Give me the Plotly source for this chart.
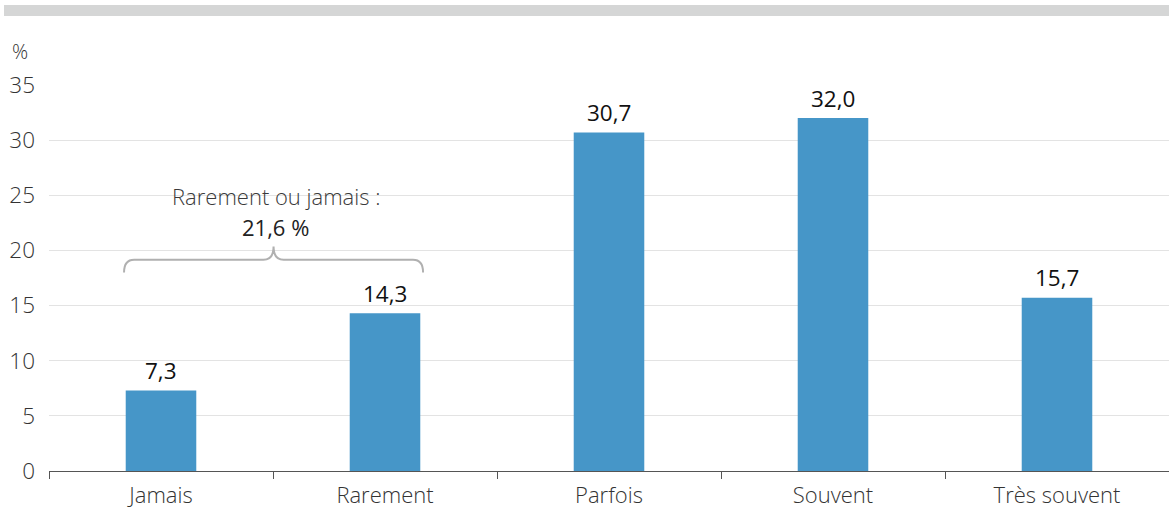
import plotly.graph_objects as go

# Frequency categories and shares (%)
categories = ["Jamais", "Rarement", "Parfois", "Souvent", "Très souvent"]
values = [7.3, 14.3, 30.7, 32.0, 15.7]
y_ticks = [0, 5, 10, 15, 20, 25, 30, 35]
group_label = "Rarement ou jamais :"
group_value = "21,6 %"

BAR_COLOR = "#4696c8"
FONT = "Open Sans"

W, H = 1169, 508
M_L, M_R, M_T, M_B = 49, 0, 85, 37
plot_w = W - M_L - M_R
plot_h = H - M_T - M_B


def fr(v):
    return f"{v:.1f}".replace(".", ",")


x_pos = list(range(len(categories)))

fig = go.Figure()
fig.add_trace(go.Bar(
    x=x_pos, y=values, width=0.315,
    marker=dict(color=BAR_COLOR, line=dict(width=0)),
    hoverinfo="skip",
))

# value labels above bars
for xi, v in zip(x_pos, values):
    fig.add_annotation(x=xi, y=v, text=fr(v), showarrow=False,
                       xref="x", yref="y", yanchor="middle", yshift=20,
                       font=dict(family=FONT, size=22.5, color="#111111"))

# curly brace grouping the first two categories
xl, xr = -0.165, 1.17
xm = (xl + xr) / 2
yb, yl, yt = 18.0, 19.15, 20.35
rx = 0.045
path = (f"M {xl},{yb} Q {xl},{yl} {xl + rx},{yl} "
        f"L {xm - rx},{yl} Q {xm},{yl} {xm},{yt} "
        f"Q {xm},{yl} {xm + rx},{yl} "
        f"L {xr - rx},{yl} Q {xr},{yl} {xr},{yb}")
fig.add_shape(type="path", path=path, xref="x", yref="y",
              line=dict(color="#b0b0b0", width=2))
fig.add_annotation(x=xm + 0.01, y=24.95, text=group_label, showarrow=False,
                   xref="x", yref="y", yanchor="middle",
                   font=dict(family=FONT, size=22, color="#3a3a3a", weight=300))
fig.add_annotation(x=xm + 0.01, y=22.1, text=group_value, showarrow=False,
                   xref="x", yref="y", yanchor="middle",
                   font=dict(family=FONT, size=22, color="#222222"))

# unit label
fig.add_annotation(x=(20 - M_L) / plot_w, y=(plot_h + M_T - 52) / plot_h,
                   xref="paper", yref="paper", text="%", showarrow=False,
                   xanchor="center", yanchor="middle",
                   font=dict(family=FONT, size=20, color="#333333", weight=300))

# grey header band
fig.add_shape(type="rect", xref="paper", yref="paper",
              x0=(4 - M_L) / plot_w, x1=(W + 5 - M_L) / plot_w,
              y0=(plot_h + M_T - 16) / plot_h, y1=(plot_h + M_T - 5) / plot_h,
              fillcolor="#d5d6d6", line=dict(width=0), layer="above")

fig.update_layout(
    width=W, height=H,
    margin=dict(l=M_L, r=M_R, t=M_T, b=M_B, pad=0),
    plot_bgcolor="white", paper_bgcolor="white",
    showlegend=False,
    font=dict(family=FONT, size=22, color="#333333"),
    xaxis=dict(
        range=[-0.5, len(categories) - 0.5],
        tickmode="array", tickvals=x_pos, ticktext=categories,
        ticks="", showgrid=False, zeroline=False,
        showline=True, linecolor="#555555", linewidth=1.2,
        ticklabelstandoff=4,
        tickfont=dict(family=FONT, size=22, color="#333333", weight=300),
        minor=dict(tickmode="array",
                   tickvals=[i - 0.5 for i in range(len(categories) + 1)],
                   ticks="outside", ticklen=7, tickwidth=1, tickcolor="#555555",
                   showgrid=False),
        fixedrange=True,
    ),
    yaxis=dict(
        range=[0, 35], tickmode="array", tickvals=y_ticks,
        showgrid=True, gridcolor="#e3e3e3", gridwidth=1,
        zeroline=False, showline=False, ticks="",
        ticklabelstandoff=13,
        tickfont=dict(family=FONT, size=22.5, color="#333333", weight=300),
        fixedrange=True,
    ),
)

fig.write_html("out.html", config={"displayModeBar": False})
